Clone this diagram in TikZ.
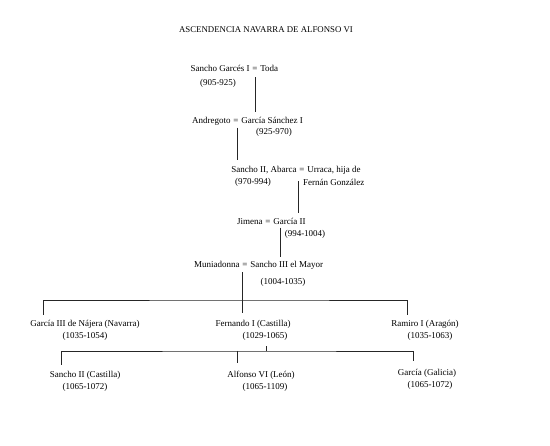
\documentclass[tikz,border=0pt]{standalone}
\usepackage{fontspec}
\setmainfont{Liberation Serif}
\usetikzlibrary{positioning}

\tikzset{
  persona/.style={inner sep=0pt, text height=6.3pt, text depth=1.9pt,
    font=\fontsize{9}{10}\selectfont},
  igual/.style={persona},
  enlace/.style={draw=black!85, line width=0.5pt},
}

\begin{document}
\begin{tikzpicture}[x=1pt, y=-1pt, node distance=2.4pt]
  \useasboundingbox (0,0) rectangle (550,446);

  % titulo
  \node[inner sep=0pt, anchor=base, font=\fontsize{8.8}{10}\selectfont] (titulo) at (266,33)
    {ASCENDENCIA NAVARRA DE ALFONSO VI};

  % generaciones en linea directa
  \node[igual, anchor=base] (eq1) at (255,72) {=};
  \node[persona, left=of eq1] (sgarces) {Sancho Garcés I};
  \node[persona, right=of eq1] (toda) {Toda};
  \node[persona, anchor=base] (f1) at (218,86) {(905-925)};

  \node[igual, anchor=base] (eq2) at (236,124) {=};
  \node[persona, left=of eq2] (andregoto) {Andregoto};
  \node[persona, right=of eq2] (gsanchez) {García Sánchez I};
  \node[persona, anchor=base] (f2) at (274,135) {(925-970)};

  \node[igual, anchor=base] (eq3) at (302,173) {=};
  \node[persona, left=of eq3] (abarca) {Sancho II, Abarca};
  \node[persona, right=of eq3] (urraca) {Urraca, hija de};
  \node[persona, anchor=base] (f3) at (253,185) {(970-994)};
  \node[persona, anchor=base west] (fernan) at (303,186) {Fernán González};

  \node[igual, anchor=base] (eq4) at (268,225) {=};
  \node[persona, left=of eq4] (jimena) {Jimena};
  \node[persona, right=of eq4] (garcia2) {García II};
  \node[persona, anchor=base] (f4) at (305,237) {(994-1004)};

  \node[igual, anchor=base] (eq5) at (245,268) {=};
  \node[persona, left=of eq5] (muniadonna) {Muniadonna};
  \node[persona, right=of eq5] (sancho3) {Sancho III el Mayor};
  \node[persona, anchor=base] (f5) at (283,285) {(1004-1035)};

  % hijos de Sancho III
  \node[persona, anchor=base] (garcia3) at (85,327) {García III de Nájera (Navarra)};
  \node[persona, anchor=base] (g3fechas) at (85,339) {(1035-1054)};
  \node[persona, anchor=base] (fernando) at (253,327) {Fernando I (Castilla)};
  \node[persona, anchor=base] (ffechas) at (265,339) {(1029-1065)};
  \node[persona, anchor=base] (ramiro) at (425,327) {Ramiro I (Aragón)};
  \node[persona, anchor=base] (rfechas) at (430,339) {(1035-1063)};

  % hijos de Fernando I
  \node[persona, anchor=base] (sancho2) at (85,378) {Sancho II (Castilla)};
  \node[persona, anchor=base] (s2fechas) at (85,390) {(1065-1072)};
  \node[persona, anchor=base] (alfonso) at (261,378) {Alfonso VI (León)};
  \node[persona, anchor=base] (afechas) at (265,390) {(1065-1109)};
  \node[persona, anchor=base] (garciag) at (427,376) {García (Galicia)};
  \node[persona, anchor=base] (ggfechas) at (430,388) {(1065-1072)};

  % descendencia
  \draw[enlace] ([yshift=-3pt]eq1.south) -- ([yshift=5.5pt]eq1.south |- gsanchez.north);
  \draw[enlace] ([xshift=1pt,yshift=-1.5pt]eq2.south) -- ([xshift=1pt,yshift=6.5pt]eq2.south |- abarca.north);
  \draw[enlace] ([xshift=-4pt,yshift=-6pt]eq3.south) -- ([xshift=-4pt,yshift=5.5pt]eq3.south |- garcia2.north);
  \draw[enlace] ([xshift=7pt,yshift=-0.5pt]garcia2.south west) -- ([xshift=7pt,yshift=4.5pt]garcia2.south west |- sancho3.north);

  \draw[enlace] ([xshift=-3pt,yshift=-2pt]eq5.south) -- ([xshift=-3pt,yshift=7.5pt]eq5.south |- fernando.north);
  \draw[enlace] ([xshift=13pt,yshift=5.5pt]garcia3.north west) |- ([yshift=20.5pt]fernando.north)
    -| ([xshift=16pt,yshift=5.5pt]ramiro.north west);

  \draw[enlace] ([xshift=1pt,yshift=-5pt]ffechas.south) -- ([xshift=1pt,yshift=20.5pt]ffechas.south |- alfonso.north);
  \draw[enlace] ([xshift=12pt,yshift=6.5pt]sancho2.north west) |- ([yshift=20.5pt]alfonso.north)
    -| ([xshift=16pt,yshift=8.5pt]garciag.north west);
  \draw[enlace] ([xshift=10pt,yshift=20.5pt]alfonso.north west) -- ([xshift=10pt,yshift=8pt]alfonso.north west);
\end{tikzpicture}
\end{document}
